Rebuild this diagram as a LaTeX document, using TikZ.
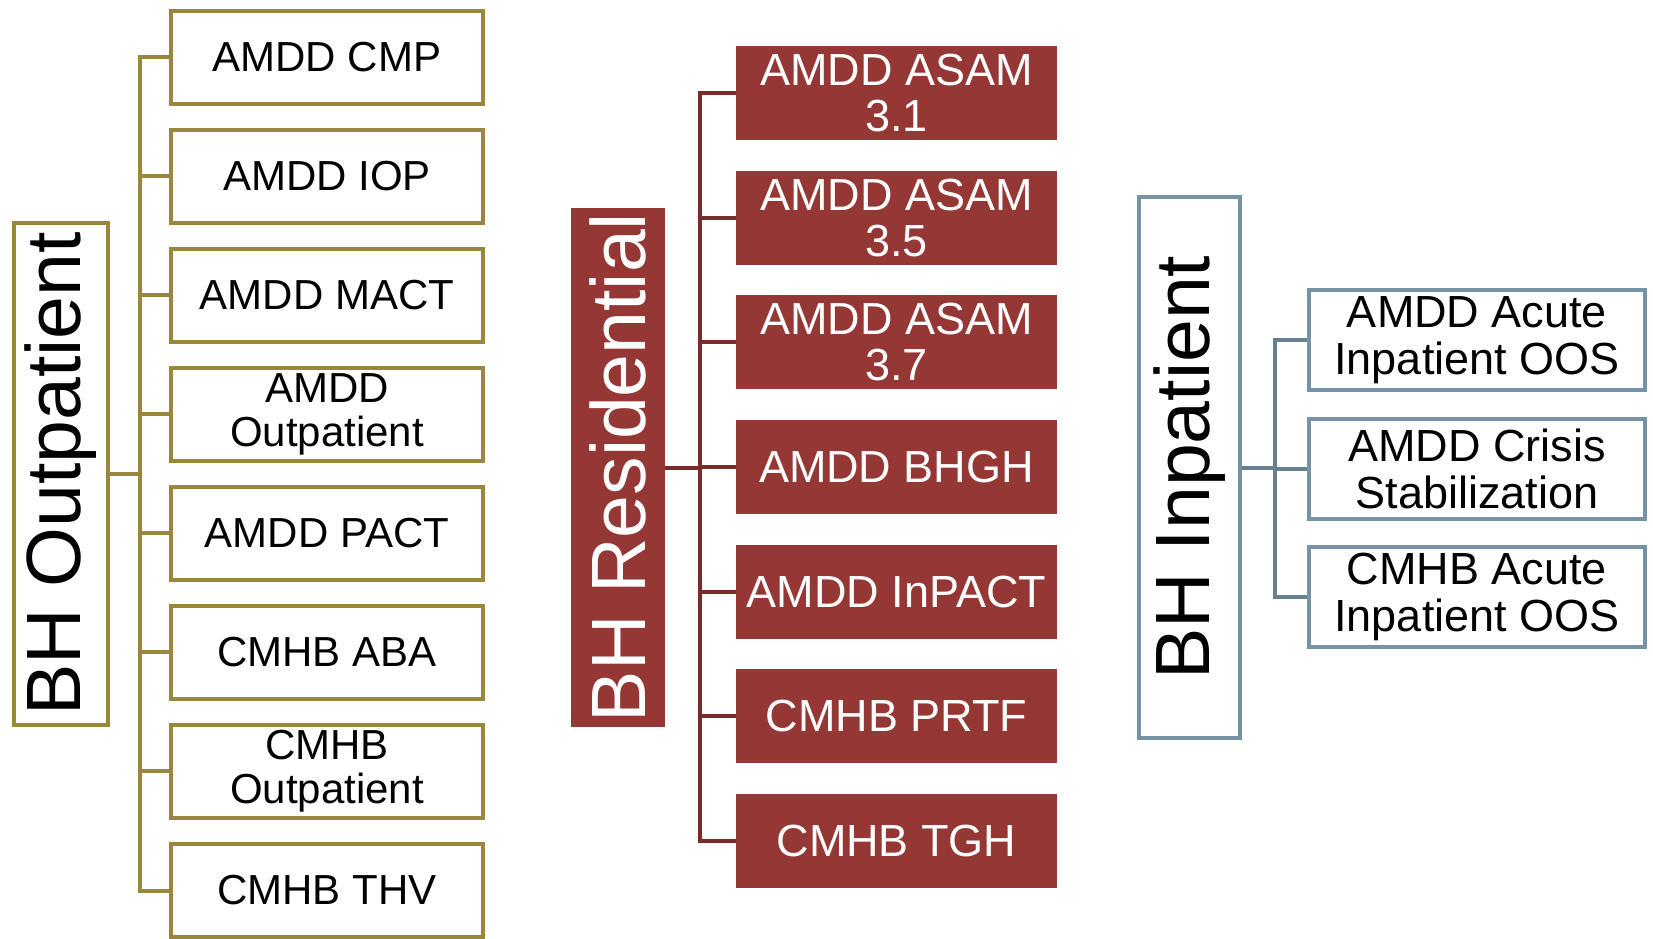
\documentclass[tikz,border=0pt]{standalone}
\usepackage{fontspec}
\setmainfont{Liberation Sans}
\usetikzlibrary{calc}
\definecolor{bhgold}{RGB}{155,135,60}
\definecolor{bhred}{RGB}{149,55,53}
\definecolor{bhredline}{RGB}{120,43,41}
\definecolor{bhblue}{RGB}{118,146,167}
\definecolor{bhblueline}{RGB}{102,127,145}

\begin{document}
\begin{tikzpicture}[x=1pt,y=-1pt,
    rootfont/.style={font=\fontsize{77}{80}\selectfont},
    outroot/.style={draw=bhgold,line width=4pt,fill=white,inner sep=0pt,
      minimum width=94pt,minimum height=502pt,rootfont},
    outbox/.style={draw=bhgold,line width=4pt,fill=white,inner sep=0pt,
      minimum width=312pt,minimum height=93pt,align=center,
      font=\fontsize{42}{44}\selectfont},
    outlink/.style={draw=bhgold,line width=4pt},
    resroot/.style={fill=bhred,text=white,inner sep=0pt,
      minimum width=94pt,minimum height=519pt,rootfont},
    resbox/.style={fill=bhred,text=white,inner sep=0pt,
      minimum width=321pt,minimum height=94pt,align=center,
      font=\fontsize{45}{46}\selectfont},
    reslink/.style={draw=bhredline,line width=4pt},
    inroot/.style={draw=bhblue,line width=4pt,fill=white,inner sep=0pt,
      minimum width=101pt,minimum height=541pt,rootfont},
    inbox/.style={draw=bhblue,line width=4pt,fill=white,inner sep=0pt,
      minimum width=336pt,minimum height=100pt,align=center,
      font=\fontsize{45}{47}\selectfont},
    inlink/.style={draw=bhblueline,line width=4pt}]
  \useasboundingbox (0,0) rectangle (1653,938);
  \pgfmathsetmacro{\opitch}{119.07}\pgfmathsetmacro{\rpitch}{124.67}
  \pgfmathsetmacro{\ipitch}{128.5}

  % ---- BH Outpatient ----------------------------------------------------
  \node[outroot] (oroot) at (61,474) {\rotatebox{90}{BH Outpatient}};
  \foreach \lbl [count=\i] in {AMDD CMP,AMDD IOP,AMDD MACT,{AMDD\\Outpatient},
      AMDD PACT,CMHB ABA,{CMHB\\Outpatient},CMHB THV}
    \node[outbox] (oc\i) at (327,{57+(\i-1)*\opitch}) {\lbl};
  \coordinate (ospine) at (140,0);
  \draw[outlink] (oc1.west) -- (ospine |- oc1.west) -- (ospine |- oc8.west) -- (oc8.west);
  \foreach \i in {2,...,7}
    \draw[outlink] (ospine |- oc\i.west) -- (oc\i.west);
  \draw[outlink] (oroot.east) -- (ospine |- oroot.east);

  % ---- BH Residential ---------------------------------------------------
  \node[resroot] (rroot) at (618,467.5) {\rotatebox{90}{BH Residential}};
  \foreach \lbl [count=\i] in {{AMDD ASAM\\3.1},{AMDD ASAM\\3.5},{AMDD ASAM\\3.7},
      AMDD BHGH,AMDD InPACT,CMHB PRTF,CMHB TGH}
    \node[resbox] (rc\i) at (896.5,{93+(\i-1)*\rpitch}) {\lbl};
  \coordinate (rspine) at (700,0);
  \draw[reslink] (rc1.west) -- (rspine |- rc1.west) -- (rspine |- rc7.west) -- (rc7.west);
  \foreach \i in {2,...,6}
    \draw[reslink] (rspine |- rc\i.west) -- (rc\i.west);
  \draw[reslink] (rroot.east) -- (rspine |- rroot.east);

  % ---- BH Inpatient -----------------------------------------------------
  \node[inroot] (iroot) at (1189.5,467.5) {\rotatebox{90}{BH Inpatient}};
  \foreach \lbl [count=\i] in {{AMDD Acute\\Inpatient OOS},{AMDD Crisis\\Stabilization},
      {CMHB Acute\\Inpatient OOS}}
    \node[inbox] (ic\i) at (1477,{340+(\i-1)*\ipitch}) {\lbl};
  \coordinate (ispine) at (1275,0);
  \draw[inlink] (ic1.west) -- (ispine |- ic1.west) -- (ispine |- ic3.west) -- (ic3.west);
  \draw[inlink] (ispine |- ic2.west) -- (ic2.west);
  \draw[inlink] (iroot.east) -- (ispine |- iroot.east);
\end{tikzpicture}
\end{document}
